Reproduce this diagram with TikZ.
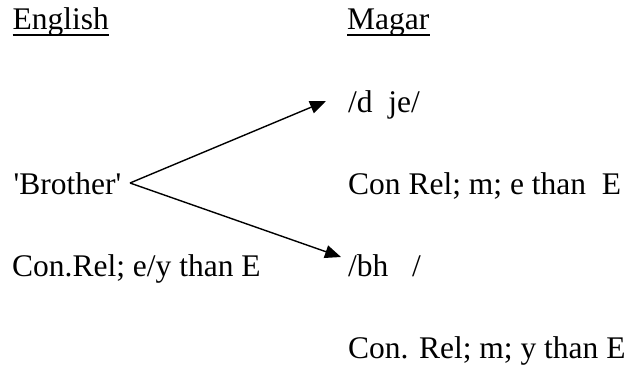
\documentclass[tikz,border=0pt]{standalone}
\usepackage{fontspec}
\setmainfont{Liberation Serif}
\usetikzlibrary{arrows.meta}
\begin{document}
\begin{tikzpicture}[x=1pt,y=-1pt,
  txt/.style={anchor=base west,inner sep=0pt,font=\fontsize{31.5}{36}\selectfont},
  uline/.style={line width=1.5pt},
  arr/.style={line width=1.4pt,-{Triangle[length=16pt,width=13pt]}}]
\useasboundingbox (0,0) rectangle (628,369);
\node[txt] (eng) at (12.5,30) {English};
\node[txt] (mag) at (347,30) {Magar};
\draw[uline] ([yshift=-5pt]eng.base west) -- ([yshift=-5pt]eng.base east);
\draw[uline] ([yshift=-5pt]mag.base west) -- ([yshift=-5pt]mag.base east);
\node[txt] (dje) at (348,112) {/d\ \ je/};
\node[txt] (bro) at (13.5,194) {\textquotesingle Brother\textquotesingle};
\node[txt] (crm) at (348,194) {Con Rel; m; e than\ \ E};
\node[txt] (cre) at (12,276) {Con.Rel; e/y than E};
\node[txt] (bh) at (348,276) {/bh\ \ \ /};
\node[txt] (cry) at (348,358) {Con. Rel; m; y than E};
\coordinate (apex) at (130,183);
\coordinate (t1) at (326,101);
\coordinate (t2) at (341,257);
\draw[arr] (apex) -- (t1);
\draw[arr] (apex) -- (t2);
\end{tikzpicture}
\end{document}
